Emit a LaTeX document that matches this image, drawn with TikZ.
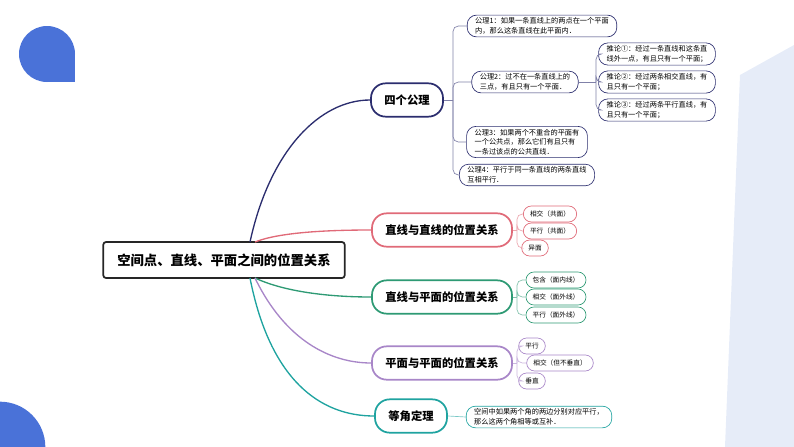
\documentclass[tikz,border=0pt]{standalone}
\usepackage{fontspec}
\setmainfont{Noto Sans CJK SC}
\usetikzlibrary{positioning}
\definecolor{navyc}{HTML}{2B2D6E}
\definecolor{redc}{HTML}{E06A78}
\definecolor{greenc}{HTML}{2E9A74}
\definecolor{purplec}{HTML}{A886C8}
\definecolor{tealc}{HTML}{1FA3A0}
\definecolor{bluec}{HTML}{4A72D8}
\definecolor{panelc}{HTML}{E6ECF8}
\tikzset{
  main/.style={draw=#1, line width=1.3pt, rounded corners=11pt, fill=white, minimum height=25pt, inner xsep=10pt, font=\fontsize{8.5}{10}\selectfont\bfseries},
  leaf/.style={draw=#1, line width=0.5pt, rounded corners=7pt, fill=white, align=left, inner xsep=6pt, inner ysep=2pt, font=\fontsize{5.4}{7.2}\selectfont},
  tiny/.style={draw=#1, line width=0.5pt, rounded corners=6pt, fill=white, minimum height=12pt, inner xsep=5pt, font=\fontsize{5}{6}\selectfont},
  branch/.style={draw=#1, line width=1pt},
  twig/.style={draw=#1!60, line width=0.5pt, rounded corners=4pt}
}
\begin{document}
\begin{tikzpicture}[x=0.75pt, y=-0.75pt]
\useasboundingbox (0,0) rectangle (794,447);
% background shapes
\fill[panelc] (740,75) -- (794,45) -- (794,447) -- (725,447) -- cycle;
\fill[bluec] (47,54) circle (21pt);
\fill[bluec] (47,54) rectangle (75,82);
\fill[bluec] (0,447) circle (34pt);
% root
\node[draw=black!85, line width=1.3pt, rounded corners=2pt, fill=white, minimum width=181pt, minimum height=27pt, font=\fontsize{10}{12}\selectfont\bfseries] (root) at (224,260) {空间点、直线、平面之间的位置关系};
% main branches
\node[main=navyc] (axioms) at (407,100) {四个公理};
\node[main=redc] (ll) at (442,230) {直线与直线的位置关系};
\node[main=greenc] (lp) at (442,297) {直线与平面的位置关系};
\node[main=purplec] (pp) at (442,363) {平面与平面的位置关系};
\node[main=tealc] (eq) at (411,416) {等角定理};
\draw[branch=navyc] (250,242) .. controls (270,150) and (320,100) .. (axioms.west);
\draw[branch=redc] (255,242) .. controls (280,232) and (330,230) .. (ll.west);
\draw[branch=greenc] (255,278) .. controls (285,292) and (330,297) .. (lp.west);
\draw[branch=purplec] (255,278) .. controls (285,340) and (330,363) .. (pp.west);
\draw[branch=tealc] (250,278) .. controls (270,380) and (320,416) .. (eq.west);
% axioms
\node[leaf=navyc] (a1) at (542,26) {公理1：如果一条直线上的两点在一个平面\\内，那么这条直线在此平面内．};
\node[leaf=navyc] (a2) at (525,82) {公理2：过不在一条直线上的\\三点，有且只有一个平面．};
\node[leaf=navyc] (a3) at (527,142) {公理3：如果两个不重合的平面有\\一个公共点，那么它们有且只有\\一条过该点的公共直线．};
\node[leaf=navyc] (a4) at (527,175) {公理4：平行于同一条直线的两条直线\\互相平行．};
\node[leaf=navyc] (c1) at (657,54) {推论①：经过一条直线和这条直\\线外一点，有且只有一个平面；};
\node[leaf=navyc] (c2) at (657,82) {推论②：经过两条相交直线，有\\且只有一个平面；};
\node[leaf=navyc] (c3) at (657,110) {推论③：经过两条平行直线，有\\且只有一个平面；};
\draw[twig=navyc] (axioms.east) -- (453,100);
\foreach \n in {a1,a2,a3,a4} \draw[twig=navyc] (453,100) |- (\n.west);
\draw[twig=navyc] (a2.east) -- (596,82);
\foreach \n in {c1,c2,c3} \draw[twig=navyc] (596,82) |- (\n.west);
% line-line
\node[tiny=redc] (ll1) at (550,214) {相交（共面）};
\node[tiny=redc] (ll2) at (550,231) {平行（共面）};
\node[tiny=redc] (ll3) at (535,248) {异面};
\draw[twig=redc] (ll.east) -- (517,230);
\foreach \n in {ll1,ll2,ll3} \draw[twig=redc] (517,230) |- (\n.west);
% line-plane
\node[tiny=greenc] (lp1) at (556,280) {包含（面内线）};
\node[tiny=greenc] (lp2) at (556,297) {相交（面外线）};
\node[tiny=greenc] (lp3) at (556,315) {平行（面外线）};
\draw[twig=greenc] (lp.east) -- (517,297);
\foreach \n in {lp1,lp2,lp3} \draw[twig=greenc] (517,297) |- (\n.west);
% plane-plane
\node[tiny=purplec] (pp1) at (532,346) {平行};
\node[tiny=purplec] (pp2) at (560,363) {相交（但不垂直）};
\node[tiny=purplec] (pp3) at (532,381) {垂直};
\draw[twig=purplec] (pp.east) -- (517,363);
\foreach \n in {pp1,pp2,pp3} \draw[twig=purplec] (517,363) |- (\n.west);
% equal angles
\node[leaf=tealc] (eq1) at (539,417) {空间中如果两个角的两边分别对应平行，\\那么这两个角相等或互补．};
\draw[twig=tealc] (eq.east) -- (eq1.west);
\end{tikzpicture}
\end{document}
